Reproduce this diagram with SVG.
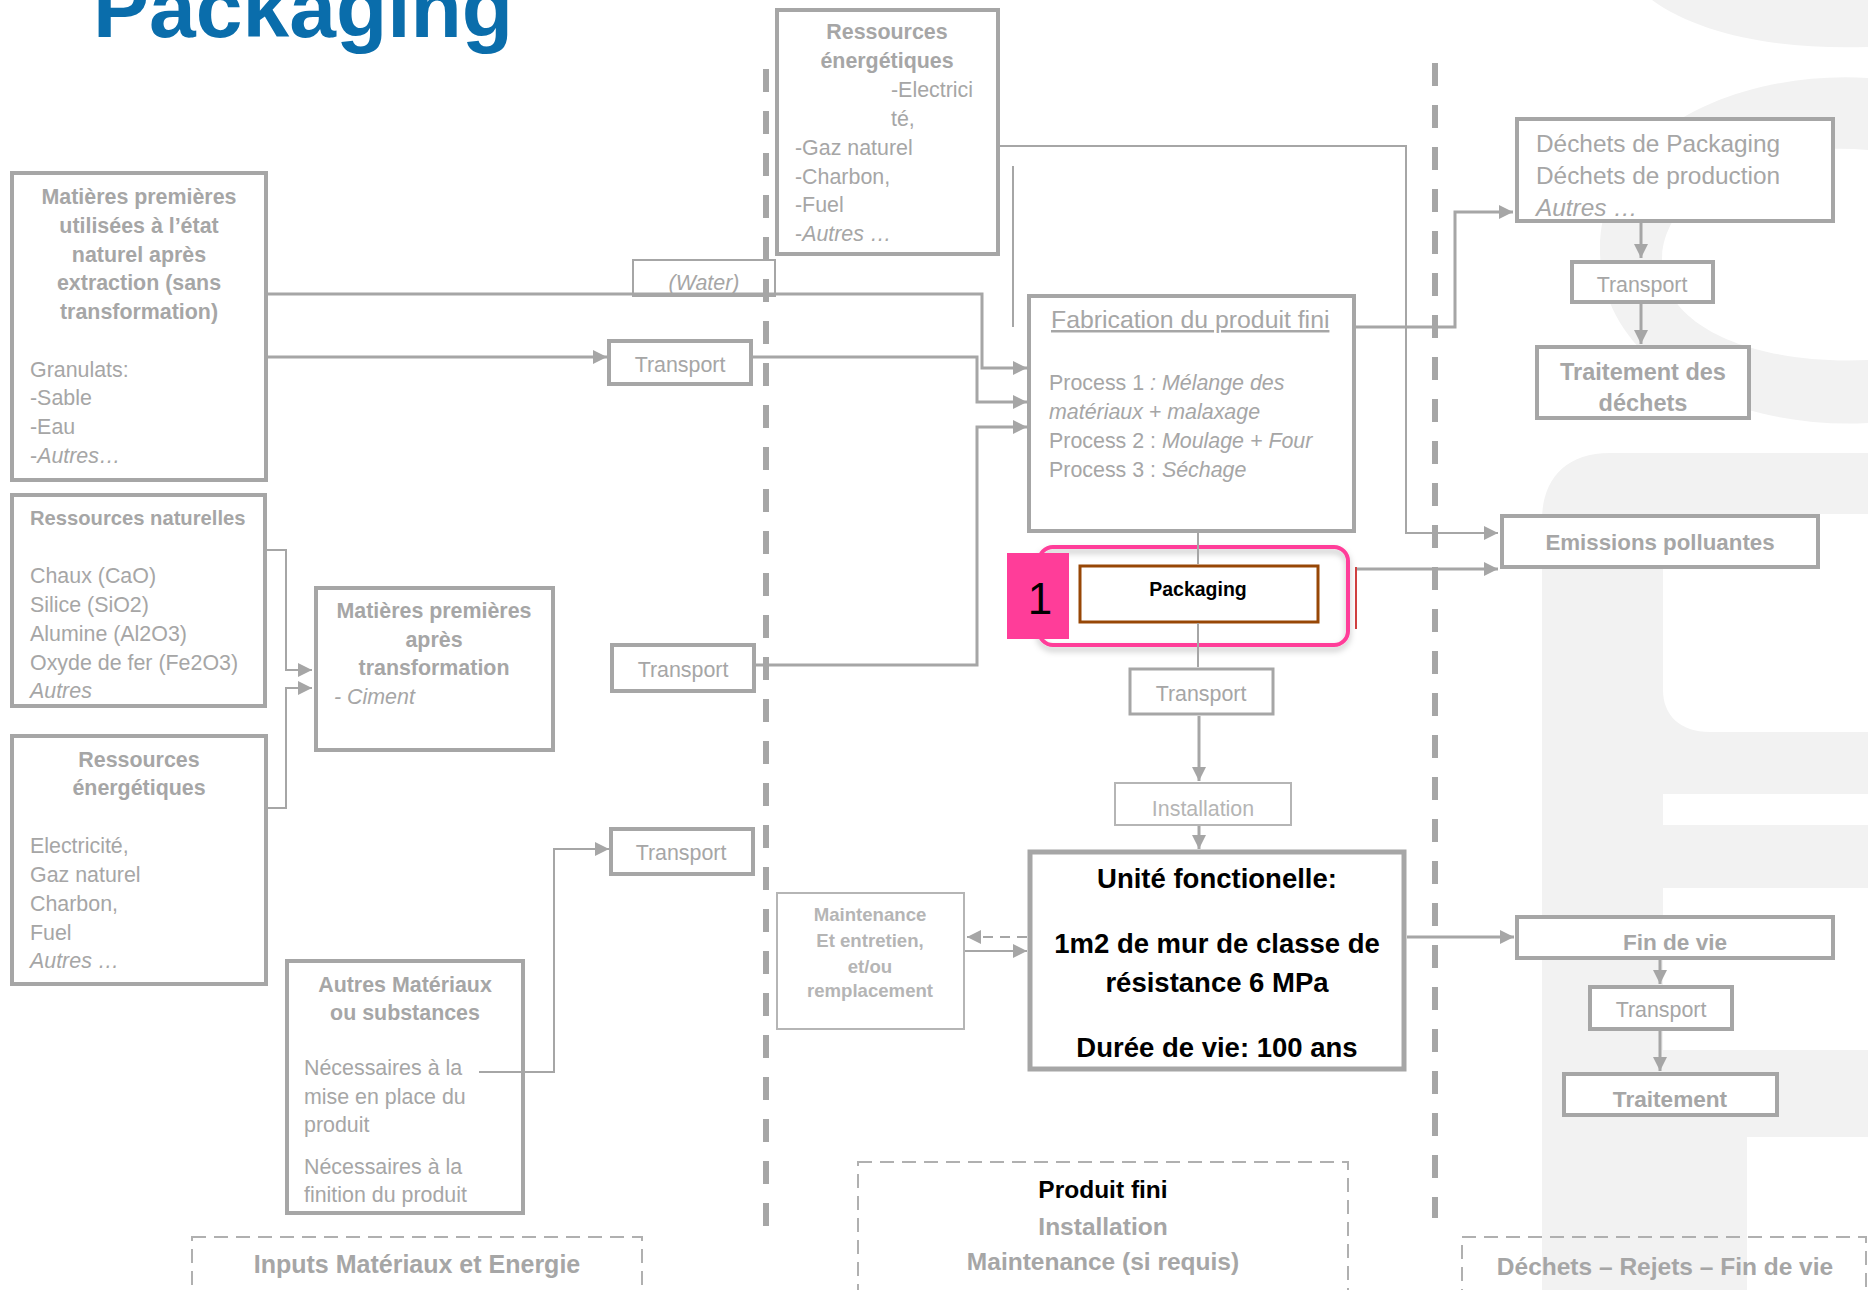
<svg xmlns="http://www.w3.org/2000/svg" width="1868" height="1290" viewBox="0 0 1868 1290">
  <style>
    .box{fill:#fff;stroke:#a6a6a6;stroke-width:4}
    .lite{fill:#fff;stroke:#b5b5b5;stroke-width:2}
    .lbl{fill:none;stroke:#b0b0b0;stroke-width:2;stroke-dasharray:14 8}
    .div{fill:none;stroke:#a6a6a6;stroke-width:6;stroke-dasharray:23 19}
    .t{font-family:'Liberation Sans',Arial,sans-serif;font-size:21.4px;fill:#a6a6a6}
    .b{font-weight:bold}
    .i{font-style:italic}
    .c{text-anchor:middle}
    .k{fill:#000}
    .pale{fill:#b5b5b5}
    .conn{fill:none;stroke:#a6a6a6;stroke-width:3}
    .cthin{fill:none;stroke:#a6a6a6;stroke-width:2}
    .wm{fill:#f2f2f2}
  </style>
  <defs>
    <marker id="arr" markerUnits="userSpaceOnUse" markerWidth="15" markerHeight="15" refX="14" refY="7" orient="auto">
      <path d="M0,0 L14,7 L0,14 Z" fill="#a6a6a6"/>
    </marker>
    <marker id="open" markerUnits="userSpaceOnUse" markerWidth="22" markerHeight="24" refX="19" refY="11" orient="auto">
      <path d="M1,1 L19,11 L1,21" fill="none" stroke="#a6a6a6" stroke-width="3"/>
    </marker>
    <filter id="sh" x="-10%" y="-50%" width="120%" height="300%">
      <feDropShadow dx="0" dy="4" stdDeviation="3" flood-color="#000" flood-opacity="0.25"/>
    </filter>
  </defs>

  <!-- background watermark -->
  <g id="watermark">
    <path class="wm" d="M1652,0 C1700,35 1780,50 1868,47 L1868,0 Z"/>
    <path class="wm" fill-rule="evenodd" d="M1868,78 C1740,70 1600,130 1600,250 C1600,370 1740,430 1868,423 Z M1868,150 C1760,140 1662,190 1662,260 C1662,330 1760,365 1868,360 Z"/>
    <path class="wm" fill-rule="evenodd" d="M1542,1290 V520 C1542,480 1565,453 1610,453 H1868 V794 H1663 V825 H1868 V888 H1663 V1050 H1868 V1137 H1747 V1290 Z M1868,514 H1720 C1685,514 1663,535 1663,570 V690 C1663,715 1680,732 1710,732 H1868 Z"/>
  </g>

  <!-- title -->
  <text x="93" y="37" font-family="'Liberation Sans',Arial,sans-serif" font-size="84" font-weight="bold" fill="#0a6dab">Packaging</text>

  <!-- nodes -->
  <g id="n-matieres-naturel">
    <rect class="box" x="12" y="173" width="254" height="307"/>
    <text class="t b c"><tspan x="139" y="204">Matières premières</tspan><tspan x="139" y="233">utilisées à l’état</tspan><tspan x="139" y="262">naturel après</tspan><tspan x="139" y="290">extraction (sans</tspan><tspan x="139" y="319">transformation)</tspan></text>
    <text class="t"><tspan x="30" y="377">Granulats:</tspan><tspan x="30" y="405">-Sable</tspan><tspan x="30" y="434">-Eau</tspan><tspan x="30" y="463">-<tspan class="i">Autres…</tspan></tspan></text>
  </g>

  <g id="n-ressources-naturelles">
    <rect class="box" x="12" y="495" width="253" height="211"/>
    <text class="t b" x="30" y="525" style="font-size:20.2px">Ressources naturelles</text>
    <text class="t"><tspan x="30" y="583">Chaux (CaO)</tspan><tspan x="30" y="612">Silice (SiO2)</tspan><tspan x="30" y="641">Alumine (Al2O3)</tspan><tspan x="30" y="670">Oxyde de fer (Fe2O3)</tspan><tspan x="30" y="698" class="i">Autres</tspan></text>
  </g>

  <g id="n-ressources-energie-gauche">
    <rect class="box" x="12" y="736" width="254" height="248"/>
    <text class="t b c"><tspan x="139" y="767">Ressources</tspan><tspan x="139" y="795">énergétiques</tspan></text>
    <text class="t"><tspan x="30" y="853">Electricité,</tspan><tspan x="30" y="882">Gaz naturel</tspan><tspan x="30" y="911">Charbon,</tspan><tspan x="30" y="940">Fuel</tspan><tspan x="30" y="968" class="i">Autres …</tspan></text>
  </g>

  <g id="n-matieres-transformees">
    <rect class="box" x="316" y="588" width="237" height="162"/>
    <text class="t b c"><tspan x="434" y="618">Matières premières</tspan><tspan x="434" y="647">après</tspan><tspan x="434" y="675">transformation</tspan></text>
    <text class="t i" x="334" y="704">- Ciment</text>
  </g>

  <g id="n-autres-materiaux">
    <rect class="box" x="287" y="961" width="236" height="252"/>
    <text class="t b c"><tspan x="405" y="992">Autres Matériaux</tspan><tspan x="405" y="1020">ou substances</tspan></text>
    <text class="t"><tspan x="304" y="1075">Nécessaires à la</tspan><tspan x="304" y="1104">mise en place du</tspan><tspan x="304" y="1132">produit</tspan><tspan x="304" y="1174">Nécessaires à la</tspan><tspan x="304" y="1202">finition du produit</tspan></text>
  </g>

  <g id="n-water">
    <rect x="633" y="260" width="142" height="36" fill="none" stroke="#a6a6a6" stroke-width="2"/>
    <text class="t i c" x="704" y="290">(Water)</text>
  </g>

  <g id="n-transport-1">
    <rect class="box" x="609" y="341" width="142" height="43"/>
    <text class="t c" x="680" y="372">Transport</text>
  </g>
  <g id="n-transport-2">
    <rect class="box" x="612" y="645" width="142" height="46"/>
    <text class="t c" x="683" y="677">Transport</text>
  </g>
  <g id="n-transport-3">
    <rect class="box" x="611" y="829" width="142" height="45"/>
    <text class="t c" x="681" y="860">Transport</text>
  </g>

  <g id="n-ressources-energie-haut">
    <rect class="box" x="777" y="10" width="221" height="244"/>
    <text class="t b c"><tspan x="887" y="39">Ressources</tspan><tspan x="887" y="68">énergétiques</tspan></text>
    <text class="t"><tspan x="891" y="97">-Electrici</tspan><tspan x="891" y="126">té,</tspan><tspan x="795" y="155">-Gaz naturel</tspan><tspan x="795" y="184">-Charbon,</tspan><tspan x="795" y="212">-Fuel</tspan><tspan x="795" y="241">-<tspan class="i">Autres …</tspan></tspan></text>
  </g>

  <g id="n-fabrication">
    <rect class="box" x="1029" y="296" width="325" height="235"/>
    <text class="t" x="1051" y="328" style="font-size:24.8px" text-decoration="underline">Fabrication du produit fini</text>
    <text class="t"><tspan x="1049" y="390">Process 1 <tspan class="i">: Mélange des</tspan></tspan><tspan x="1049" y="419" class="i">matériaux + malaxage</tspan><tspan x="1049" y="448">Process 2 : <tspan class="i">Moulage + Four</tspan></tspan><tspan x="1049" y="477">Process 3 : <tspan class="i">Séchage</tspan></tspan></text>
  </g>

  <g id="n-packaging">
    <rect x="1039" y="547" width="309" height="98" rx="14" fill="none" stroke="#ff3d99" stroke-width="4" filter="url(#sh)"/>
    <rect x="1007" y="553" width="62" height="86" fill="#ff3d99"/>
    <text x="1040" y="614" font-family="'Liberation Sans',Arial,sans-serif" font-size="44" fill="#000" text-anchor="middle">1</text>
    <rect x="1080" y="566" width="238" height="56" fill="#fff" stroke="#974706" stroke-width="3"/>
    <text class="t b c k" x="1198" y="596" style="font-size:19.5px">Packaging</text>
    <line x1="1356" y1="567" x2="1356" y2="629" stroke="#c00000" stroke-width="1.5"/>
  </g>

  <g id="n-transport-4">
    <rect x="1130" y="669" width="143" height="45" fill="#fff" stroke="#a6a6a6" stroke-width="3"/>
    <text class="t c" x="1201" y="701">Transport</text>
  </g>

  <g id="n-installation">
    <rect class="lite" x="1115" y="783" width="176" height="42"/>
    <text class="t c pale" x="1203" y="816">Installation</text>
  </g>

  <g id="n-maintenance">
    <rect class="lite" x="777" y="893" width="187" height="136"/>
    <text class="t b c pale" style="font-size:18.6px"><tspan x="870" y="921">Maintenance</tspan><tspan x="870" y="947">Et entretien,</tspan><tspan x="870" y="973">et/ou</tspan><tspan x="870" y="997">remplacement</tspan></text>
  </g>

  <g id="n-unite">
    <rect x="1030" y="852" width="374" height="217" fill="#fff" stroke="#a6a6a6" stroke-width="5"/>
    <text class="t b c k" style="font-size:27.5px"><tspan x="1217" y="888">Unité fonctionelle:</tspan><tspan x="1217" y="953">1m2 de mur de classe de</tspan><tspan x="1217" y="992">résistance 6 MPa</tspan><tspan x="1217" y="1057">Durée de vie: 100 ans</tspan></text>
  </g>

  <g id="n-dechets">
    <rect class="box" x="1517" y="119" width="316" height="102"/>
    <text class="t" style="font-size:24.4px"><tspan x="1536" y="152">Déchets de Packaging</tspan><tspan x="1536" y="184">Déchets de production</tspan><tspan x="1536" y="216" class="i">Autres …</tspan></text>
  </g>
  <g id="n-transport-dechets">
    <rect class="box" x="1572" y="262" width="141" height="40"/>
    <text class="t c" x="1642" y="292">Transport</text>
  </g>
  <g id="n-traitement-dechets">
    <rect class="box" x="1537" y="347" width="212" height="71"/>
    <text class="t b c" style="font-size:23.5px"><tspan x="1643" y="380">Traitement des</tspan><tspan x="1643" y="411">déchets</tspan></text>
  </g>
  <g id="n-emissions">
    <rect class="box" x="1502" y="516" width="316" height="51"/>
    <text class="t b c" x="1660" y="550" style="font-size:22.3px">Emissions polluantes</text>
  </g>
  <g id="n-fin-de-vie">
    <rect class="box" x="1517" y="917" width="316" height="41"/>
    <text class="t b c" x="1675" y="950" style="font-size:22.6px">Fin de vie</text>
  </g>
  <g id="n-transport-fin">
    <rect class="box" x="1590" y="987" width="142" height="42"/>
    <text class="t c" x="1661" y="1017">Transport</text>
  </g>
  <g id="n-traitement-fin">
    <rect class="box" x="1564" y="1074" width="213" height="41"/>
    <text class="t b c" x="1670" y="1107" style="font-size:22.6px">Traitement</text>
  </g>

  <!-- column labels -->
  <g id="n-label-inputs">
    <rect class="lbl" x="192" y="1237" width="450" height="80"/>
    <text class="t b c" x="417" y="1273" style="font-size:25px">Inputs Matériaux et Energie</text>
  </g>
  <g id="n-label-produit">
    <rect class="lbl" x="858" y="1162" width="490" height="150"/>
    <text class="t b c" style="font-size:24.5px"><tspan x="1103" y="1198" class="k">Produit fini</tspan><tspan x="1103" y="1235">Installation</tspan><tspan x="1103" y="1270">Maintenance (si requis)</tspan></text>
  </g>
  <g id="n-label-dechets">
    <rect class="lbl" x="1462" y="1237" width="404" height="80"/>
    <text class="t b c" x="1665" y="1275" style="font-size:24.5px">Déchets – Rejets – Fin de vie</text>
  </g>

  <!-- column dividers -->
  <g id="dividers">
    <line class="div" x1="766" y1="69" x2="766" y2="1228"/>
    <line class="div" x1="1435" y1="63" x2="1435" y2="1218"/>
  </g>

  <!-- connectors -->
  <g id="connectors">
    <path class="conn" d="M268,294 H982 V368 H1027" marker-end="url(#arr)"/>
    <path class="conn" d="M268,357 H607" marker-end="url(#arr)"/>
    <path class="conn" d="M753,357 H977 V402 H1027" marker-end="url(#arr)"/>
    <path class="conn" d="M756,665 H977 V427 H1027" marker-end="url(#arr)"/>
    <path class="cthin" d="M1000,146 H1406 V533 H1498" marker-end="url(#arr)"/>
    <path class="cthin" d="M1013,166 V327"/>
    <path class="conn" d="M1356,327 H1455 V212 H1513" marker-end="url(#arr)"/>
    <path class="conn" d="M1641,223 V258" marker-end="url(#arr)"/>
    <path class="conn" d="M1641,304 V344" marker-end="url(#arr)"/>
    <path class="conn" d="M1357,569 H1498" marker-end="url(#arr)"/>
    <path class="cthin" d="M267,550 H286 V670 H312" marker-end="url(#arr)"/>
    <path class="cthin" d="M268,808 H286 V688 H312" marker-end="url(#arr)"/>
    <path d="M555,630 H1350" fill="none" stroke="#a6a6a6" stroke-width="1.5" filter="url(#sh)"/>
    <path class="cthin" d="M479,1072 H554 V849 H609" marker-end="url(#arr)"/>
    <path class="conn" d="M755,850 H1027" marker-end="url(#open)" filter="url(#sh)"/>
    <path class="cthin" d="M1027,937 H967" stroke-dasharray="10 7" marker-end="url(#arr)"/>
    <path class="cthin" d="M965,951 H1027" marker-end="url(#arr)"/>
    <path class="cthin" d="M1198,533 V564"/>
    <path class="cthin" d="M1198,623 V667"/>
    <path class="conn" d="M1199,716 V781" marker-end="url(#arr)"/>
    <path class="conn" d="M1199,826 V849" marker-end="url(#arr)"/>
    <path class="conn" d="M1407,937 H1514" marker-end="url(#arr)"/>
    <path class="conn" d="M1660,960 V984" marker-end="url(#arr)"/>
    <path class="conn" d="M1660,1031 V1071" marker-end="url(#arr)"/>
  </g>
</svg>
